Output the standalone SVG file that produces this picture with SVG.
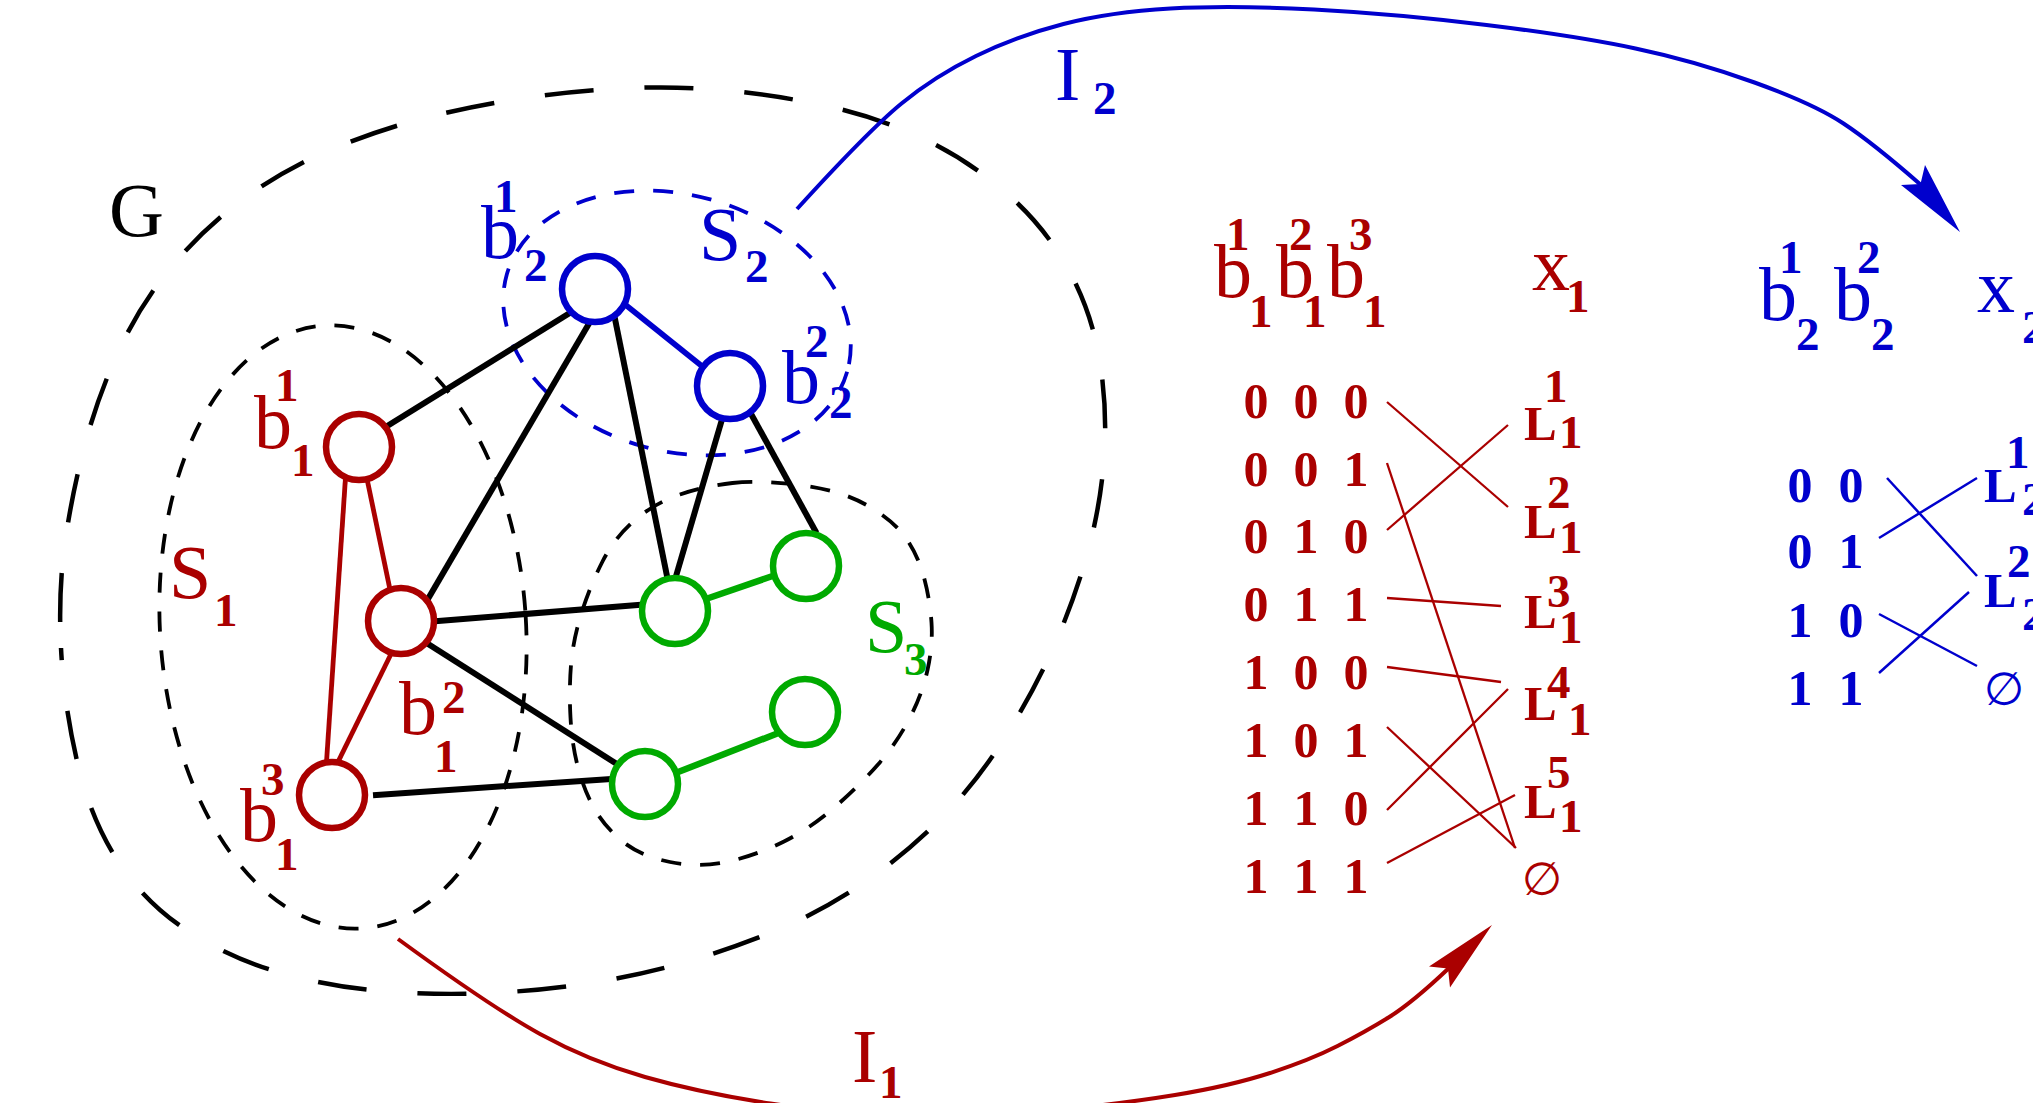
<svg xmlns="http://www.w3.org/2000/svg" width="2033" height="1103" viewBox="0 0 2033 1103">
<style>
text { font-family: "Liberation Serif", "Times New Roman", serif; }
.big { font-size: 76px; }
.idx { font-size: 47px; font-weight: bold; }
.dig { font-size: 50px; font-weight: bold; text-anchor: middle; }
.lL { font-size: 49px; font-weight: bold; }
.emp { font-family: "DejaVu Sans", sans-serif; font-size: 46px; }
.r { fill: #aa0000; }
.b { fill: #0000cd; }
.g { fill: #00aa00; }
.k { fill: #000000; }
.region { fill: none; stroke-width: 3.8; stroke-dasharray: 20 19; }
.node { fill: #ffffff; stroke-width: 6.5; }
.ek { stroke: #000000; stroke-width: 6; stroke-linecap: butt; }
.er { stroke: #aa0000; stroke-width: 4.8; }
.eb { stroke: #0000cd; stroke-width: 5.5; }
.eg { stroke: #00aa00; stroke-width: 6.5; }
.tr { stroke: #aa0000; stroke-width: 2.3; }
.tb { stroke: #0000cd; stroke-width: 2.5; }
</style>

<g id="region-G">
<path d="M61,648 Q58,590 65.5,539 Q73,488 86.5,439 Q100,390 121.5,345 Q143,300 175.5,262 Q208,224 249,195 Q290,166 337,147 Q384,128 432.5,116 Q481,104 532,97 Q583,90 632.5,88 Q682,86 732,91 Q782,96 831,107 Q880,118 925,139.5 Q970,161 1008,194.5 Q1046,228 1069.5,271.5 Q1093,315 1100.5,365.5 Q1108,416 1103.5,465.5 Q1099,515 1084.5,563.5 Q1070,612 1049,657 Q1028,702 1000,745 Q972,788 936.5,823 Q901,858 859,886 Q817,914 770,933 Q723,952 675,965 Q627,978 577,985 Q527,992 476.5,993.5 Q426,995 376,990.5 Q326,986 278,972 Q230,958 188,931 Q146,904 118.5,862 Q91,820 77.5,763 Q64,706 61,648 Z" fill="none" stroke="#000" stroke-width="4.5" stroke-dasharray="49 51" stroke-dashoffset="74"/>
<text class="big k" x="109" y="236">G</text>
</g>

<g id="region-S1">
<ellipse cx="343" cy="627" rx="183" ry="302" transform="rotate(-3.6 343 627)" class="region" stroke="#000"/>
<text class="r"><tspan class="big" x="169" y="598">S</tspan><tspan class="idx" x="214" y="626">1</tspan></text>
</g>

<g id="region-S2">
<ellipse cx="677" cy="323" rx="177" ry="128" transform="rotate(16 677 323)" class="region" stroke="#0000cd"/>
<text class="b"><tspan class="big" x="699" y="260">S</tspan><tspan class="idx" x="745" y="282">2</tspan></text>
</g>

<g id="region-S3">
<path d="M732.5,483 Q760,480 800,485 Q840,490 866.5,505 Q893,520 905.5,537.5 Q918,555 924,577.5 Q930,600 931.5,622.5 Q933,645 927.5,670 Q922,695 909,719.5 Q896,744 878,764.5 Q860,785 835.5,806.5 Q811,828 784,841.5 Q757,855 728.5,861.5 Q700,868 670,862 Q640,856 622,841 Q604,826 594,808 Q584,790 578,767.5 Q572,745 570.5,717.5 Q569,690 571,665 Q573,640 581.5,613 Q590,586 602.5,561.5 Q615,537 635,520 Q655,503 680,494.5 Q705,486 732.5,483 Z" class="region" stroke="#000"/>
<text class="g"><tspan class="big" x="865" y="652">S</tspan><tspan class="idx" x="904" y="675">3</tspan></text>
</g>

<g id="connectors">
<line class="ek" x1="384" y1="428" x2="573" y2="311"/>
<line class="ek" x1="590.5" y1="321" x2="425.6" y2="603"/>
<line class="ek" x1="614" y1="314" x2="668" y2="581"/>
<line class="ek" x1="722.7" y1="417" x2="674.3" y2="582"/>
<line class="ek" x1="750" y1="412" x2="816.5" y2="533"/>
<line class="ek" x1="432" y1="621.4" x2="644" y2="604.6"/>
<line class="ek" x1="425" y1="642" x2="620" y2="766"/>
<line class="ek" x1="373" y1="795.2" x2="615" y2="778.7"/>
<line class="eb" x1="622" y1="302" x2="703" y2="367"/>
<line class="eg" x1="703" y1="600" x2="777" y2="574.5"/>
<line class="eg" x1="673" y1="774" x2="781" y2="732"/>
<line class="er" x1="366" y1="474" x2="393" y2="604"/>
<line class="er" x1="346" y1="470" x2="326.3" y2="765"/>
<line class="er" x1="392" y1="652" x2="336" y2="766"/>
<g id="arrow-I2">
<path d="M797,209 Q868,131 901.5,103.5 Q935,76 976,56 Q1017,36 1063.5,24 Q1110,12 1170.5,8.5 Q1231,5 1314,9.5 Q1397,14 1486.5,25 Q1576,36 1635.5,48.5 Q1695,61 1754.5,82.5 Q1814,104 1843.5,123.5 Q1873,143 1921,185" fill="none" stroke="#0000cd" stroke-width="4"/>
<polygon points="1960,232 1925,165 1920.5,184 1901,185" fill="#0000cd"/>
<text class="b"><tspan class="big" x="1055" y="100">I</tspan><tspan class="idx" x="1093" y="114">2</tspan></text>
</g>
<g id="arrow-I1">
<path d="M398,939 Q491,1007 540,1034 Q589,1061 645,1077 Q701,1093 770.5,1103.5 Q840,1114 915,1115 Q990,1116 1055,1110 Q1120,1104 1175,1095 Q1230,1086 1270,1073 Q1310,1060 1337.5,1046 Q1365,1032 1388.5,1017.5 Q1412,1003 1449,968" fill="none" stroke="#aa0000" stroke-width="4"/>
<polygon points="1492,925 1429,966.4 1448,968.6 1450,987.6" fill="#aa0000"/>
<text class="r"><tspan class="big" x="852" y="1082">I</tspan><tspan class="idx" x="879" y="1098">1</tspan></text>
</g>
</g>

<g id="node-b21">
<circle class="node" cx="595" cy="289" r="33" stroke="#0000cd"/>
<text class="b"><tspan class="big" x="481" y="258">b</tspan><tspan class="idx" x="494" y="212">1</tspan><tspan class="idx" x="524" y="281">2</tspan></text>
</g>
<g id="node-b22">
<circle class="node" cx="730" cy="386" r="33" stroke="#0000cd"/>
<text class="b"><tspan class="big" x="782" y="403">b</tspan><tspan class="idx" x="805" y="357">2</tspan><tspan class="idx" x="829" y="418">2</tspan></text>
</g>
<g id="node-b11">
<circle class="node" cx="359" cy="447" r="33" stroke="#aa0000"/>
<text class="r"><tspan class="big" x="254" y="448">b</tspan><tspan class="idx" x="275" y="401">1</tspan><tspan class="idx" x="291" y="476">1</tspan></text>
</g>
<g id="node-b12">
<circle class="node" cx="401" cy="621" r="33" stroke="#aa0000"/>
<text class="r"><tspan class="big" x="399" y="734">b</tspan><tspan class="idx" x="442" y="713">2</tspan><tspan class="idx" x="434" y="772">1</tspan></text>
</g>
<g id="node-b13">
<circle class="node" cx="332" cy="795" r="33" stroke="#aa0000"/>
<text class="r"><tspan class="big" x="240" y="841">b</tspan><tspan class="idx" x="261" y="795">3</tspan><tspan class="idx" x="275" y="870">1</tspan></text>
</g>
<g id="node-g1"><circle class="node" cx="675" cy="611" r="33" stroke="#00aa00"/></g>
<g id="node-g2"><circle class="node" cx="806" cy="566" r="33" stroke="#00aa00"/></g>
<g id="node-g3"><circle class="node" cx="805" cy="712" r="33" stroke="#00aa00"/></g>
<g id="node-g4"><circle class="node" cx="645" cy="784" r="33" stroke="#00aa00"/></g>

<g id="table-1">
<text class="r"><tspan class="big" x="1214" y="297">b</tspan><tspan class="idx" x="1226" y="250">1</tspan><tspan class="idx" x="1249" y="327">1</tspan><tspan class="big" x="1276" y="297">b</tspan><tspan class="idx" x="1289" y="250">2</tspan><tspan class="idx" x="1303" y="327">1</tspan><tspan class="big" x="1327" y="297">b</tspan><tspan class="idx" x="1349" y="250">3</tspan><tspan class="idx" x="1363" y="327">1</tspan></text>
<text class="r"><tspan class="big" x="1532" y="290">x</tspan><tspan class="idx" x="1566" y="312">1</tspan></text>
<text class="dig r"><tspan x="1256" y="418">0</tspan><tspan x="1306" y="418">0</tspan><tspan x="1356" y="418">0</tspan></text>
<text class="dig r"><tspan x="1256" y="486">0</tspan><tspan x="1306" y="486">0</tspan><tspan x="1356" y="486">1</tspan></text>
<text class="dig r"><tspan x="1256" y="553">0</tspan><tspan x="1306" y="553">1</tspan><tspan x="1356" y="553">0</tspan></text>
<text class="dig r"><tspan x="1256" y="621">0</tspan><tspan x="1306" y="621">1</tspan><tspan x="1356" y="621">1</tspan></text>
<text class="dig r"><tspan x="1256" y="689">1</tspan><tspan x="1306" y="689">0</tspan><tspan x="1356" y="689">0</tspan></text>
<text class="dig r"><tspan x="1256" y="757">1</tspan><tspan x="1306" y="757">0</tspan><tspan x="1356" y="757">1</tspan></text>
<text class="dig r"><tspan x="1256" y="825">1</tspan><tspan x="1306" y="825">1</tspan><tspan x="1356" y="825">0</tspan></text>
<text class="dig r"><tspan x="1256" y="893">1</tspan><tspan x="1306" y="893">1</tspan><tspan x="1356" y="893">1</tspan></text>
<text class="r"><tspan class="lL" x="1524" y="440">L</tspan><tspan class="idx" x="1544" y="402">1</tspan><tspan class="idx" x="1559" y="448">1</tspan></text>
<text class="r"><tspan class="lL" x="1524" y="538">L</tspan><tspan class="idx" x="1547" y="508">2</tspan><tspan class="idx" x="1559" y="553">1</tspan></text>
<text class="r"><tspan class="lL" x="1524" y="628">L</tspan><tspan class="idx" x="1547" y="607">3</tspan><tspan class="idx" x="1559" y="643">1</tspan></text>
<text class="r"><tspan class="lL" x="1524" y="720">L</tspan><tspan class="idx" x="1547" y="698">4</tspan><tspan class="idx" x="1568" y="735">1</tspan></text>
<text class="r"><tspan class="lL" x="1524" y="818">L</tspan><tspan class="idx" x="1547" y="788">5</tspan><tspan class="idx" x="1559" y="832">1</tspan></text>
<text class="emp r" x="1522" y="895">∅</text>
<line class="tr" x1="1387" y1="402" x2="1508" y2="507"/>
<line class="tr" x1="1387" y1="530" x2="1508" y2="425"/>
<line class="tr" x1="1387" y1="463" x2="1515" y2="848"/>
<line class="tr" x1="1387" y1="598" x2="1501" y2="606"/>
<line class="tr" x1="1387" y1="667" x2="1501" y2="682"/>
<line class="tr" x1="1387" y1="727" x2="1516" y2="848"/>
<line class="tr" x1="1387" y1="810" x2="1508" y2="689"/>
<line class="tr" x1="1387" y1="863" x2="1515" y2="795"/>
</g>

<g id="table-2">
<text class="b"><tspan class="big" x="1759" y="320">b</tspan><tspan class="idx" x="1779" y="273">1</tspan><tspan class="idx" x="1796" y="350">2</tspan><tspan class="big" x="1834" y="320">b</tspan><tspan class="idx" x="1857" y="273">2</tspan><tspan class="idx" x="1871" y="350">2</tspan></text>
<text class="b"><tspan class="big" x="1977" y="312">x</tspan><tspan class="idx" x="2022" y="343">2</tspan></text>
<text class="dig b"><tspan x="1800" y="502">0</tspan><tspan x="1851" y="502">0</tspan></text>
<text class="dig b"><tspan x="1800" y="568">0</tspan><tspan x="1851" y="568">1</tspan></text>
<text class="dig b"><tspan x="1800" y="637">1</tspan><tspan x="1851" y="637">0</tspan></text>
<text class="dig b"><tspan x="1800" y="705">1</tspan><tspan x="1851" y="705">1</tspan></text>
<text class="b"><tspan class="lL" x="1984" y="502">L</tspan><tspan class="idx" x="2006" y="468">1</tspan><tspan class="idx" x="2022" y="515">2</tspan></text>
<text class="b"><tspan class="lL" x="1984" y="607">L</tspan><tspan class="idx" x="2007" y="577">2</tspan><tspan class="idx" x="2022" y="630">2</tspan></text>
<text class="emp b" x="1984" y="705">∅</text>
<line class="tb" x1="1887" y1="478" x2="1977" y2="576"/>
<line class="tb" x1="1879" y1="538" x2="1977" y2="478"/>
<line class="tb" x1="1879" y1="614" x2="1977" y2="666"/>
<line class="tb" x1="1879" y1="673" x2="1969" y2="592"/>
</g>
</svg>
